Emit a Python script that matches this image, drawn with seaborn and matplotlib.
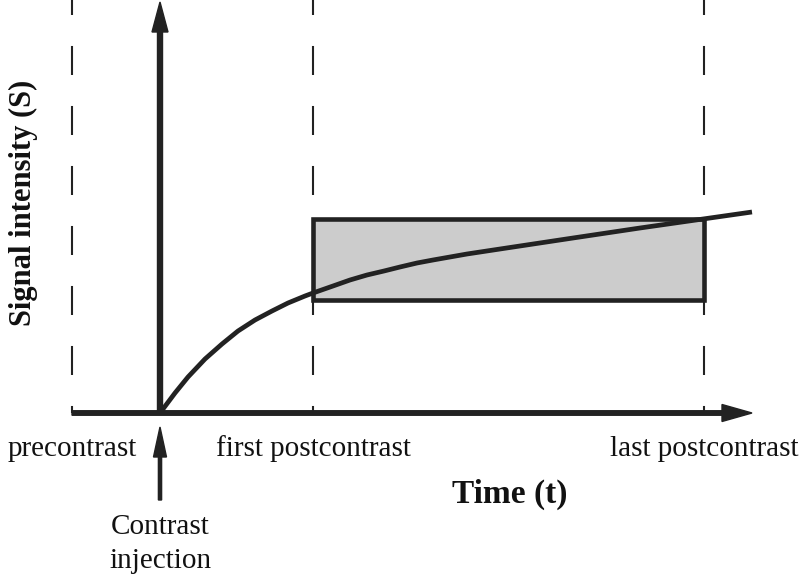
import matplotlib
matplotlib.use("Agg")
import matplotlib.pyplot as plt
import seaborn as sns
import pandas as pd
from matplotlib.patches import Rectangle, FancyArrow

# ---- data (time t, signal S in schematic units) ----
curve_t = [0, 15, 28, 45, 62, 78, 95, 112, 128, 145, 153, 173, 190, 207, 224, 240, 257, 273, 290, 307, 340, 413, 480, 543, 592]
curve_s = [0, 20, 36, 54, 69, 82, 93, 102, 110, 117, 120, 127, 133, 138, 142, 146, 150, 153, 156, 159, 164, 175, 185, 194, 201]
marker_times = [-88, 153, 544]          # precontrast, first postcontrast, last postcontrast
marker_labels = ["precontrast", "first postcontrast", "last postcontrast"]
injection_time = 0
box_t = [153, 544]
box_s = [113, 194]
x_label = "Time (t)"
y_label = "Signal intensity (S)"
injection_label = "Contrast\ninjection"

sns.set_theme(style="white")
plt.rcParams["font.family"] = ["Liberation Serif", "DejaVu Serif"]
plt.rcParams["lines.scale_dashes"] = False

fig = plt.figure(figsize=(7.99, 5.83), dpi=100)
ax = fig.add_axes([0, 0, 1, 1])
ax.set_xlim(-160, 639)
ax.set_ylim(-170, 413)

dark = "#222222"

# dashed time markers
for t in marker_times:
    ax.plot([t, t], [413, 0], color=dark, lw=1.5,
            linestyle=(10.1, (20.9, 22.3)), zorder=1)

# rectangle (time window)
ax.add_patch(Rectangle((box_t[0], box_s[0]), box_t[1] - box_t[0], box_s[1] - box_s[0],
                       facecolor="#cccccc", edgecolor=dark, lw=3.3, zorder=2))

# curve
df = pd.DataFrame({"t": curve_t, "S": curve_s})
sns.lineplot(data=df, x="t", y="S", ax=ax, color=dark, lw=3.4, zorder=4,
             sort=False, estimator=None, solid_joinstyle="round", solid_capstyle="butt")
ax.set_xlabel(""); ax.set_ylabel("")
ax.set_xlim(-160, 639)
ax.set_ylim(-170, 413)
ax.axis("off")

# axes arrows
ax.add_patch(FancyArrow(-88, 0, 592 + 88, 0, width=4.5, head_width=17, head_length=30,
                        length_includes_head=True, color=dark, zorder=5))
ax.add_patch(FancyArrow(injection_time, 0, 0, 411, width=5.0, head_width=16, head_length=30,
                        length_includes_head=True, color=dark, zorder=5))

# injection arrow
ax.add_patch(FancyArrow(injection_time, -87, 0, 73, width=3.2, head_width=13, head_length=30,
                        length_includes_head=True, color=dark, zorder=5))

# labels
for t, lab in zip(marker_times, marker_labels):
    ax.text(t, -36, lab, ha="center", va="center", fontsize=21, color="#111111")
ax.text(injection_time, -131, injection_label, ha="center", va="center",
        fontsize=21, color="#111111", linespacing=1.35)
ax.text(350, -81, x_label, ha="center", va="center", fontsize=24,
        fontweight="bold", color="#111111")
ax.text(-137, 210, y_label, ha="center", va="center", fontsize=22,
        fontweight="bold", rotation=90, color="#111111")

fig.savefig("out.png", dpi=100)
